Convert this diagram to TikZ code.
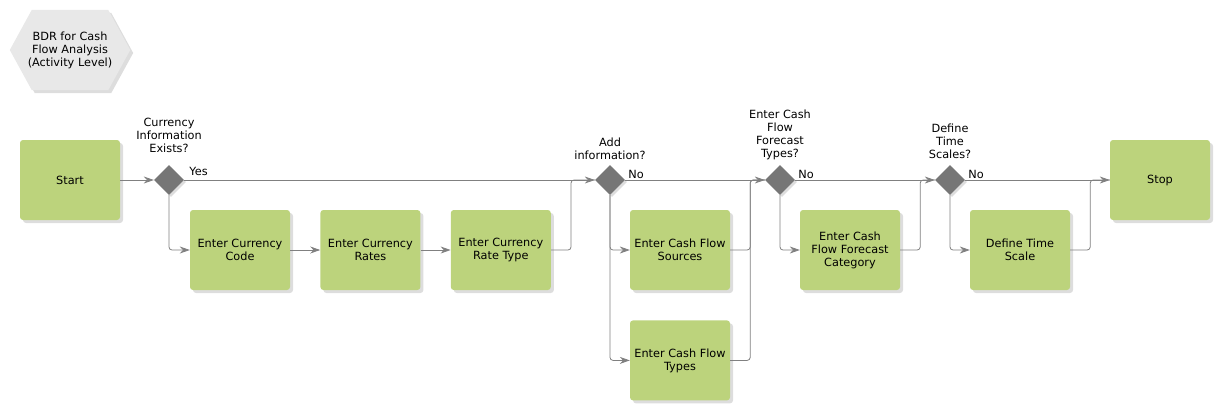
\documentclass[tikz,border=0pt]{standalone}
\usepackage{fontspec}
\setmainfont{DejaVu Sans}
\usetikzlibrary{positioning,shapes.geometric,arrows.meta,shadows}
\definecolor{taskgreen}{RGB}{188,211,124}
\definecolor{gatewaygray}{RGB}{118,118,118}
\definecolor{linegray}{RGB}{128,128,128}
\definecolor{titlegray}{RGB}{232,232,232}
\tikzset{
  every node/.style={font=\fontsize{11.3}{13}\selectfont, text=black},
  softshadow/.style={drop shadow={shadow xshift=3pt, shadow yshift=-3pt, fill=black!22, opacity=0.6}},
  task/.style={
    rectangle,
    rounded corners=3pt,
    minimum width=100pt,
    minimum height=80pt,
    align=center,
    fill=taskgreen,
    softshadow,
  },
  gateway/.style={
    diamond,
    minimum width=30pt,
    minimum height=30pt,
    inner sep=0pt,
    fill=gatewaygray,
    drop shadow={shadow xshift=2pt, shadow yshift=-2pt, fill=black!22, opacity=0.6},
  },
  title/.style={
    rectangle,
    minimum width=120pt,
    minimum height=80pt,
    align=center,
  },
  question/.style={align=center, inner sep=1pt, anchor=south},
  branch/.style={anchor=south west, inner sep=1pt},
  flow/.style={draw=linegray, line width=0.8pt, rounded corners=3pt,
    -{Stealth[length=10pt,width=7pt]}},
  joinline/.style={draw=linegray, line width=0.8pt, rounded corners=3pt},
}
\begin{document}
\begin{tikzpicture}[x=1pt,y=-1pt]
  \useasboundingbox (0,0) rectangle (1220,410);

  % title
  \node[title] (bdr) at (70,50) {};
  \fill[titlegray, softshadow] (bdr.west) -- ([xshift=22pt]bdr.north west)
    -- ([xshift=-22pt]bdr.north east) -- (bdr.east)
    -- ([xshift=-22pt]bdr.south east) -- ([xshift=22pt]bdr.south west) -- cycle;
  \node[align=center] (bdrtext) at (bdr.center) {BDR for Cash\\Flow Analysis\\(Activity Level)};

  % main row
  \node[task] (start) at (70,180) {Start};
  \node[gateway] (gcur) at (169,180) {};
  \node[gateway] (gadd) at (610,180) {};
  \node[gateway] (gfct) at (780,180) {};
  \node[gateway] (gtime) at (950,180) {};
  \node[task] (stop) at (1160,180) {Stop};

  % tasks
  \node[task] (ccode) at (240,250) {Enter Currency\\Code};
  \node[task, right=30pt of ccode] (crates) {Enter Currency\\Rates};
  \node[task, right=30pt of crates] (crtype) {Enter Currency\\Rate Type};
  \node[task] (cfsrc) at (680,250) {Enter Cash Flow\\Sources};
  \node[task, below=30pt of cfsrc] (cftyp) {Enter Cash Flow\\Types};
  \node[task] (cfcat) at (850,250) {Enter Cash\\Flow Forecast\\Category};
  \node[task] (dtime) at (1020,250) {Define Time\\Scale};

  % questions
  \node[question] (qcur) at ([yshift=11pt]gcur.north) {Currency\\Information\\Exists?};
  \node[question] (qadd) at ([yshift=4pt]gadd.north) {Add\\information?};
  \node[question] (qfct) at ([yshift=4pt]gfct.north) {Enter Cash\\Flow\\Forecast\\Types?};
  \node[question] (qtime) at ([yshift=5pt]gtime.north) {Define\\Time\\Scales?};

  % branch labels
  \node[branch] (lyes) at ([xshift=4pt,yshift=3pt]gcur.east) {Yes};
  \node[branch] (lno1) at ([xshift=2pt,yshift=0pt]gadd.east) {No};
  \node[branch] (lno2) at ([xshift=2pt,yshift=0pt]gfct.east) {No};
  \node[branch] (lno3) at ([xshift=2pt,yshift=0pt]gtime.east) {No};

  % connectors
  \draw[flow] (start) -- (gcur);
  \draw[flow] (gcur) -- (gadd);
  \draw[flow] (gadd) -- (gfct);
  \draw[flow] (gfct) -- (gtime);
  \draw[flow] (gtime) -- (stop);

  \draw[flow] (gcur.south) |- (ccode.west);
  \draw[flow] (ccode) -- (crates);
  \draw[flow] (crates) -- (crtype);
  \draw[joinline] (crtype.east) -- ++(20,0) |- (gadd.west);

  \draw[flow] (gadd.south) |- (cfsrc.west);
  \draw[flow] (gadd.south) |- (cftyp.west);
  \draw[joinline] (cfsrc.east) -- ++(20,0) |- (gfct.west);
  \draw[joinline] (cftyp.east) -- ++(20,0) |- (gfct.west);

  \draw[flow] (gfct.south) |- (cfcat.west);
  \draw[joinline] (cfcat.east) -- ++(20,0) |- (gtime.west);

  \draw[flow] (gtime.south) |- (dtime.west);
  \draw[joinline] (dtime.east) -- ++(20,0) |- (stop.west);
\end{tikzpicture}
\end{document}
